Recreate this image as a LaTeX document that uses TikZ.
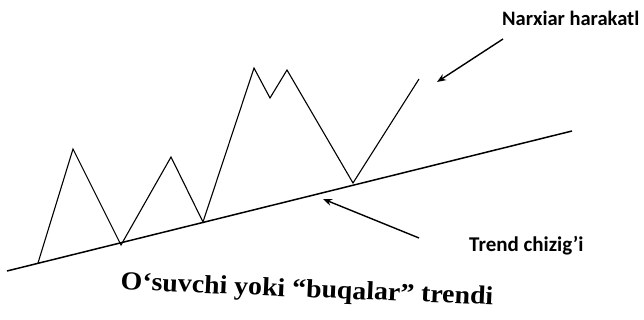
\documentclass[tikz,border=0pt]{standalone}
\usepackage{fontspec}
\setmainfont{Liberation Serif}
\newfontfamily\lblfont{Carlito}
\usetikzlibrary{arrows.meta}
\begin{document}
\begin{tikzpicture}[x=1pt,y=-1pt,
  price/.style={line width=1.1pt,line join=miter},
  trendln/.style={line width=1.5pt},
  pointer/.style={line width=1.4pt,-{Stealth[length=9pt,width=7pt]}},
  lbl/.style={font=\lblfont\bfseries,inner sep=0pt},
  title/.style={font=\bfseries\fontsize{26}{30}\selectfont,inner sep=0pt,xscale=1.07}]
\useasboundingbox (0,0) rectangle (644,320);
% trend line
\coordinate (t0) at (7,271);
\coordinate (t1) at (572,131);
\draw[trendln] (t0) -- (t1);
% price movement
\coordinate (p0) at (38,263);
\coordinate (p1) at (73,149);
\coordinate (p2) at (121,245);
\coordinate (p3) at (171,157);
\coordinate (p4) at (203,222);
\coordinate (p5) at (254,68);
\coordinate (p6) at (270,98);
\coordinate (p7) at (287,70);
\coordinate (p8) at (353,183);
\coordinate (p9) at (419,79);
\draw[price] (p0)--(p1)--(p2)--(p3)--(p4)--(p5)--(p6)--(p7)--(p8)--(p9);
% labels
\node[lbl,anchor=west,font=\lblfont\bfseries\fontsize{20.5}{22}\selectfont] (nl) at (502,18) {Narxiar harakatl};
\node[lbl,anchor=west,font=\lblfont\bfseries\fontsize{21}{24}\selectfont] (tl) at (469,246) {Trend chizig’i};
\coordinate (a1s) at (503,39);
\coordinate (a1e) at (437,82);
\coordinate (a2s) at (419,238);
\coordinate (a2e) at (323,199);
\draw[pointer] (a1s) -- (a1e);
\draw[pointer] (a2s) -- (a2e);
% title
\node[title,rotate=-2.5] (tt) at (307,291) {O‘suvchi yoki “buqalar” trendi};
\end{tikzpicture}
\end{document}
